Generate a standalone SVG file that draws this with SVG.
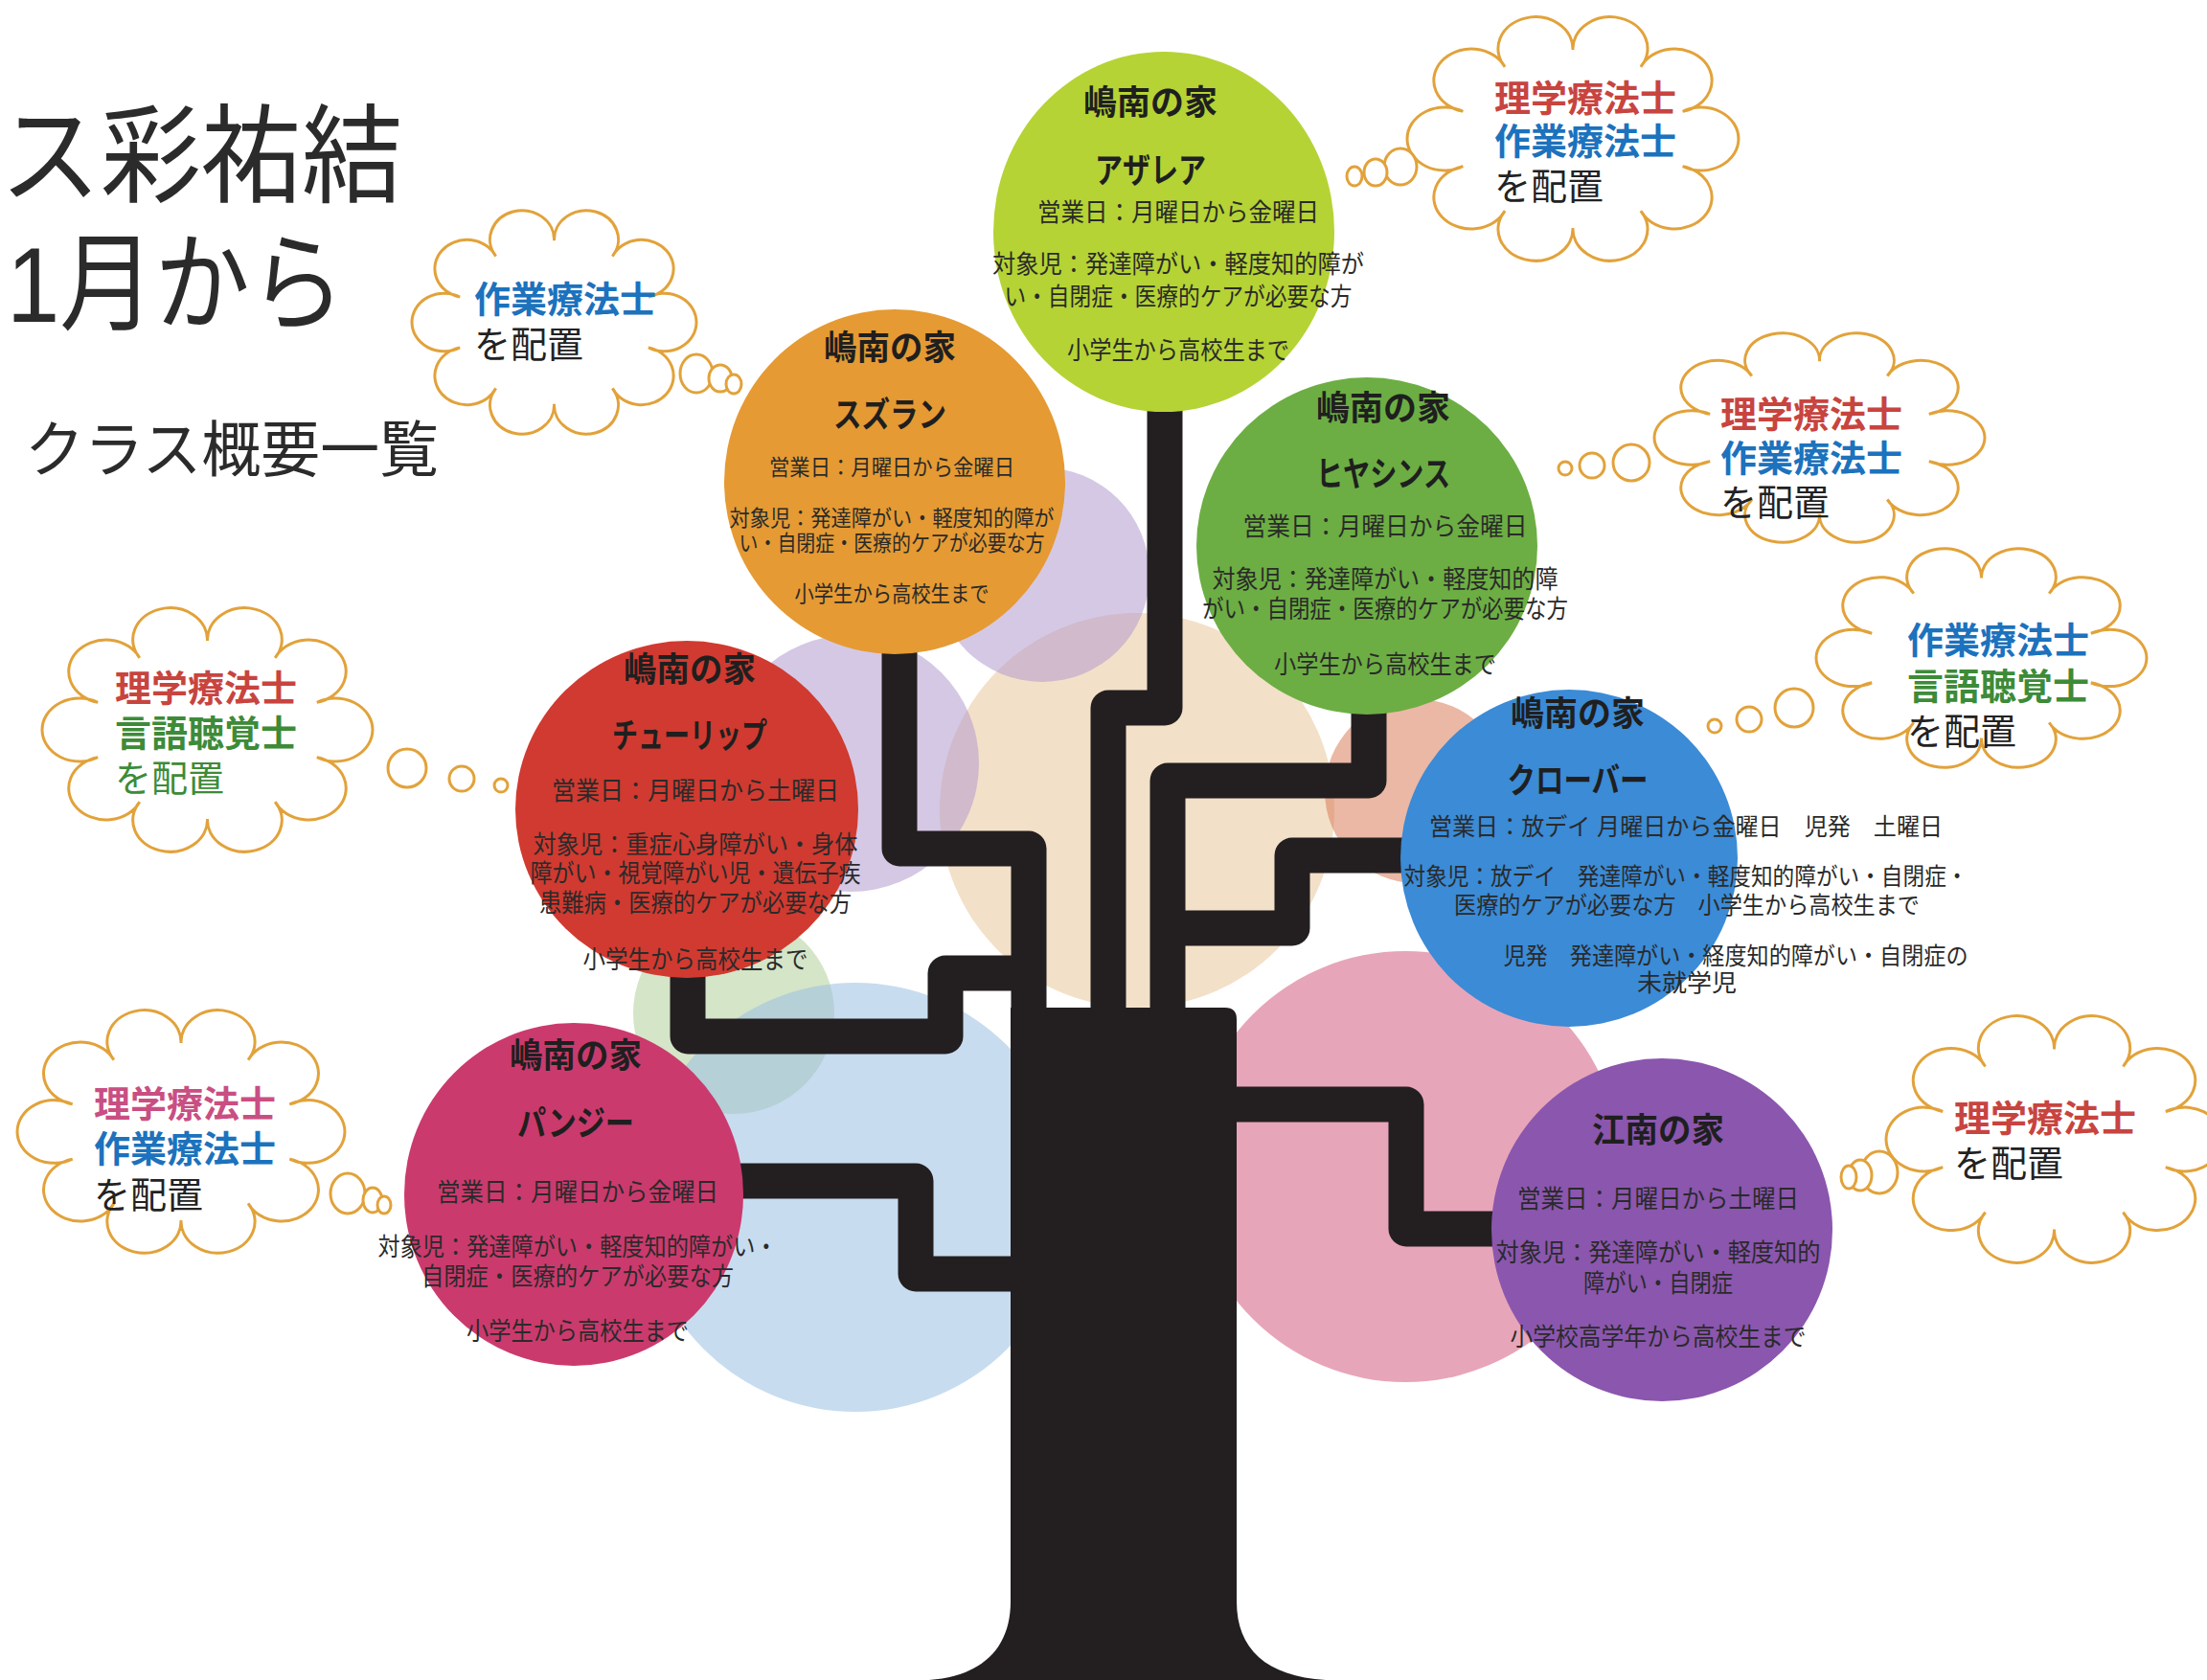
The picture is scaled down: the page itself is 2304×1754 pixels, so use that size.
<svg xmlns="http://www.w3.org/2000/svg" width="2304" height="1754" viewBox="0 0 2304 1754">
<defs>
<style>
.bg{fill-opacity:0.55}
.tree{fill:none;stroke:#231f20;stroke-width:37;stroke-linejoin:round}
.trunk{fill:#231f20}
.name{font-family:"Liberation Sans","Noto Sans CJK JP",sans-serif;font-weight:700;font-size:36px;fill:#1f1f1f;text-anchor:middle;dominant-baseline:central}
.body{font-family:"Liberation Sans","Noto Sans CJK JP",sans-serif;font-size:26px;fill:#2a2a2a;text-anchor:middle;dominant-baseline:central}
.sm{font-size:23px}
.md{font-size:25px}
.cloud{fill:#fff;stroke:#e2a23a;stroke-width:3}
.ct{font-family:"Liberation Sans","Noto Sans CJK JP",sans-serif;font-size:38px;dominant-baseline:central}
.b{font-weight:700}
.red{fill:#c8443f}.blue{fill:#1c72bd}.green{fill:#3d8b38}.pink{fill:#c94f82}.dark{fill:#222}
.title{font-family:"Liberation Sans","Noto Sans CJK JP",sans-serif;fill:#2b2b2b;dominant-baseline:central}
</style>
<path id="cloud" vector-effect="non-scaling-stroke" d="M17.67,40.42 A11,11 0 1 1 30.01,24.92 A11,11 0 1 1 50,19 A11,11 0 1 1 69.99,24.92 A11,11 0 1 1 82.33,40.42 A11,11 0 1 1 82.33,59.58 A11,11 0 1 1 69.99,75.08 A11,11 0 1 1 50,81 A11,11 0 1 1 30.01,75.08 A11,11 0 1 1 17.67,59.58 A11,11 0 1 1 17.67,40.42 Z"/>
</defs>
<rect width="2304" height="1754" fill="#ffffff"/>

<!-- title block -->
<g id="title">
<text class="title" x="0" y="164" font-size="112" textLength="420" lengthAdjust="spacingAndGlyphs">ス彩祐結</text>
<text class="title" x="7" y="297" font-size="112" textLength="353" lengthAdjust="spacingAndGlyphs">1月から</text>
<text class="title" x="26" y="470" font-size="64" textLength="432" lengthAdjust="spacingAndGlyphs">クラス概要一覧</text>
</g>

<!-- soft translucent foliage behind the tree -->
<g id="foliage">
<circle class="bg" cx="1187" cy="846" r="206" fill="#e9c79b"/>
<circle class="bg" cx="1088" cy="600" r="112" fill="#b39bce"/>
<circle class="bg" cx="888" cy="797" r="134" fill="#b39bce"/>
<circle class="bg" cx="1479" cy="826" r="96" fill="#d97e5b"/>
<circle class="bg" cx="766" cy="1058" r="105" fill="#b1d09b"/>
<circle class="bg" cx="893" cy="1250" r="224" fill="#9bbfe4"/>
<circle class="bg" cx="1467" cy="1218" r="225" fill="#d35b80"/>
</g>

<!-- trunk and branches linking each class -->
<g id="connectors">
<path class="trunk" d="M1055,1052 H1279 Q1291,1052 1291,1064 V1672 C1291,1722 1322,1750 1384,1754 H970 C1024,1750 1055,1722 1055,1672 Z"/>
<path class="tree" d="M1216,425 V739 H1157 V1062"/>
<path class="tree" d="M939,675 V886 H1074 V1062"/>
<path class="tree" d="M718,1010 V1082 H987 V1016 H1074"/>
<path class="tree" d="M1429,740 V815 H1219 V1062"/>
<path class="tree" d="M1480,893 H1349 V969 H1219"/>
<path class="tree" d="M760,1233 H956 V1330 H1062"/>
<path class="tree" d="M1280,1153 H1468 V1283 H1578"/>
</g>

<g id="azalea">
<ellipse cx="1215" cy="242" rx="178" ry="188" fill="#b5d334"/>
<text class="name" x="1201" y="107" textLength="140" lengthAdjust="spacingAndGlyphs">嶋南の家</text>
<text class="name" x="1201" y="178" textLength="116" lengthAdjust="spacingAndGlyphs">アザレア</text>
<text class="body" x="1230" y="222" textLength="294" lengthAdjust="spacingAndGlyphs">営業日：月曜日から金曜日</text>
<text class="body" x="1230" y="276" textLength="388" lengthAdjust="spacingAndGlyphs">対象児：発達障がい・軽度知的障が</text>
<text class="body" x="1230" y="310" textLength="363" lengthAdjust="spacingAndGlyphs">い・自閉症・医療的ケアが必要な方</text>
<text class="body" x="1230" y="366" textLength="232" lengthAdjust="spacingAndGlyphs">小学生から高校生まで</text>
</g>

<g id="suzuran">
<ellipse cx="934" cy="503" rx="178" ry="180" fill="#e59a33"/>
<text class="name" x="929" y="363" textLength="138" lengthAdjust="spacingAndGlyphs">嶋南の家</text>
<text class="name" x="929" y="433" textLength="118" lengthAdjust="spacingAndGlyphs">スズラン</text>
<text class="body sm" x="931" y="488" textLength="256" lengthAdjust="spacingAndGlyphs">営業日：月曜日から金曜日</text>
<text class="body sm" x="931" y="541" textLength="339" lengthAdjust="spacingAndGlyphs">対象児：発達障がい・軽度知的障が</text>
<text class="body sm" x="931" y="567" textLength="319" lengthAdjust="spacingAndGlyphs">い・自閉症・医療的ケアが必要な方</text>
<text class="body sm" x="931" y="620" textLength="203" lengthAdjust="spacingAndGlyphs">小学生から高校生まで</text>
</g>

<g id="hyacinth">
<ellipse cx="1427" cy="570" rx="178" ry="176" fill="#6cae43"/>
<text class="name" x="1444" y="426" textLength="140" lengthAdjust="spacingAndGlyphs">嶋南の家</text>
<text class="name" x="1444" y="495" textLength="140" lengthAdjust="spacingAndGlyphs">ヒヤシンス</text>
<text class="body" x="1446" y="550" textLength="297" lengthAdjust="spacingAndGlyphs">営業日：月曜日から金曜日</text>
<text class="body" x="1446" y="605" textLength="361" lengthAdjust="spacingAndGlyphs">対象児：発達障がい・軽度知的障</text>
<text class="body" x="1446" y="636" textLength="382" lengthAdjust="spacingAndGlyphs">がい・自閉症・医療的ケアが必要な方</text>
<text class="body" x="1446" y="694" textLength="232" lengthAdjust="spacingAndGlyphs">小学生から高校生まで</text>
</g>

<g id="tulip">
<ellipse cx="717" cy="845" rx="179" ry="176" fill="#d03a30"/>
<text class="name" x="720" y="699" textLength="138" lengthAdjust="spacingAndGlyphs">嶋南の家</text>
<text class="name" x="720" y="768" textLength="162" lengthAdjust="spacingAndGlyphs">チューリップ</text>
<text class="body" x="726" y="826" textLength="300" lengthAdjust="spacingAndGlyphs">営業日：月曜日から土曜日</text>
<text class="body" x="726" y="882" textLength="339" lengthAdjust="spacingAndGlyphs">対象児：重症心身障がい・身体</text>
<text class="body" x="726" y="912" textLength="345" lengthAdjust="spacingAndGlyphs">障がい・視覚障がい児・遺伝子疾</text>
<text class="body" x="726" y="943" textLength="326" lengthAdjust="spacingAndGlyphs">患難病・医療的ケアが必要な方</text>
<text class="body" x="726" y="1002" textLength="235" lengthAdjust="spacingAndGlyphs">小学生から高校生まで</text>
</g>

<g id="clover">
<ellipse cx="1638" cy="896" rx="176" ry="176" fill="#3b8bd6"/>
<text class="name" x="1647" y="745" textLength="140" lengthAdjust="spacingAndGlyphs">嶋南の家</text>
<text class="name" x="1647" y="815" textLength="147" lengthAdjust="spacingAndGlyphs">クローバー</text>
<text class="body md" x="1760" y="863" textLength="536" lengthAdjust="spacingAndGlyphs">営業日：放デイ 月曜日から金曜日　児発　土曜日</text>
<text class="body md" x="1760" y="915" textLength="589" lengthAdjust="spacingAndGlyphs">対象児：放デイ　発達障がい・軽度知的障がい・自閉症・</text>
<text class="body md" x="1761" y="945" textLength="486" lengthAdjust="spacingAndGlyphs">医療的ケアが必要な方　小学生から高校生まで</text>
<text class="body md" x="1812" y="998" textLength="485" lengthAdjust="spacingAndGlyphs">児発　発達障がい・経度知的障がい・自閉症の</text>
<text class="body md" x="1761" y="1026" textLength="104" lengthAdjust="spacingAndGlyphs">未就学児</text>
</g>

<g id="pansy">
<ellipse cx="599" cy="1247" rx="177" ry="179" fill="#cb3a6d"/>
<text class="name" x="601" y="1102" textLength="138" lengthAdjust="spacingAndGlyphs">嶋南の家</text>
<text class="name" x="601" y="1173" textLength="122" lengthAdjust="spacingAndGlyphs">パンジー</text>
<text class="body" x="603" y="1245" textLength="294" lengthAdjust="spacingAndGlyphs">営業日：月曜日から金曜日</text>
<text class="body" x="603" y="1302" textLength="417" lengthAdjust="spacingAndGlyphs">対象児：発達障がい・軽度知的障がい・</text>
<text class="body" x="603" y="1333" textLength="326" lengthAdjust="spacingAndGlyphs">自閉症・医療的ケアが必要な方</text>
<text class="body" x="603" y="1390" textLength="232" lengthAdjust="spacingAndGlyphs">小学生から高校生まで</text>
</g>

<g id="konan">
<ellipse cx="1735" cy="1284" rx="178" ry="179" fill="#8b56ae"/>
<text class="name" x="1731" y="1180" textLength="138" lengthAdjust="spacingAndGlyphs">江南の家</text>
<text class="body" x="1731" y="1252" textLength="294" lengthAdjust="spacingAndGlyphs">営業日：月曜日から土曜日</text>
<text class="body" x="1731" y="1308" textLength="339" lengthAdjust="spacingAndGlyphs">対象児：発達障がい・軽度知的</text>
<text class="body" x="1731" y="1340" textLength="156" lengthAdjust="spacingAndGlyphs">障がい・自閉症</text>
<text class="body" x="1731" y="1396" textLength="309" lengthAdjust="spacingAndGlyphs">小学校高学年から高校生まで</text>
</g>

<!-- staff thought bubbles -->
<g id="staff-suzuran">
<use href="#cloud" class="cloud" transform="translate(430,220) scale(3.047,2.752) translate(-1.26,-7.67)"/>
<ellipse class="cloud" cx="727" cy="390" rx="17" ry="20"/>
<ellipse class="cloud" cx="752" cy="395" rx="12" ry="14"/>
<ellipse class="cloud" cx="766" cy="401" rx="8" ry="10"/>
<text class="ct b blue" x="495" y="313">作業療法士</text>
<text class="ct dark" x="495" y="360">を配置</text>
</g>

<g id="staff-azalea">
<use href="#cloud" class="cloud" transform="translate(1469,18) scale(3.549,3.0) translate(-1.26,-7.67)"/>
<ellipse class="cloud" cx="1462" cy="174" rx="17" ry="19"/>
<ellipse class="cloud" cx="1436" cy="180" rx="12" ry="14"/>
<ellipse class="cloud" cx="1414" cy="184" rx="8" ry="10"/>
<text class="ct b red" x="1560" y="103">理学療法士</text>
<text class="ct b blue" x="1560" y="148">作業療法士</text>
<text class="ct dark" x="1560" y="195">を配置</text>
</g>

<g id="staff-hyacinth">
<use href="#cloud" class="cloud" transform="translate(1727,348) scale(3.539,2.575) translate(-1.26,-7.67)"/>
<circle class="cloud" cx="1703" cy="483" r="19"/>
<circle class="cloud" cx="1662" cy="486" r="13"/>
<circle class="cloud" cx="1634" cy="489" r="7"/>
<text class="ct b red" x="1796" y="433">理学療法士</text>
<text class="ct b blue" x="1796" y="479">作業療法士</text>
<text class="ct dark" x="1796" y="525">を配置</text>
</g>

<g id="staff-clover">
<use href="#cloud" class="cloud" transform="translate(1896,573) scale(3.539,2.693) translate(-1.26,-7.67)"/>
<circle class="cloud" cx="1873" cy="739" r="20"/>
<circle class="cloud" cx="1826" cy="751" r="13"/>
<circle class="cloud" cx="1790" cy="758" r="7"/>
<text class="ct b blue" x="1991" y="669">作業療法士</text>
<text class="ct b green" x="1991" y="717">言語聴覚士</text>
<text class="ct dark" x="1991" y="764">を配置</text>
</g>

<g id="staff-tulip">
<use href="#cloud" class="cloud" transform="translate(44,635) scale(3.539,3.0) translate(-1.26,-7.67)"/>
<circle class="cloud" cx="425" cy="802" r="20"/>
<circle class="cloud" cx="482" cy="813" r="13"/>
<circle class="cloud" cx="523" cy="820" r="7"/>
<text class="ct b red" x="120" y="719">理学療法士</text>
<text class="ct b green" x="120" y="766">言語聴覚士</text>
<text class="ct green" x="120" y="813">を配置</text>
</g>

<g id="staff-pansy">
<use href="#cloud" class="cloud" transform="translate(18,1055) scale(3.508,2.988) translate(-1.26,-7.67)"/>
<ellipse class="cloud" cx="363" cy="1246" rx="18" ry="21"/>
<ellipse class="cloud" cx="389" cy="1253" rx="10" ry="13"/>
<ellipse class="cloud" cx="401" cy="1258" rx="7" ry="9"/>
<text class="ct b pink" x="98" y="1153">理学療法士</text>
<text class="ct b blue" x="98" y="1200">作業療法士</text>
<text class="ct dark" x="98" y="1248">を配置</text>
</g>

<g id="staff-konan">
<use href="#cloud" class="cloud" transform="translate(1969,1061) scale(3.601,3.036) translate(-1.26,-7.67)"/>
<ellipse class="cloud" cx="1962" cy="1224" rx="19" ry="22"/>
<ellipse class="cloud" cx="1942" cy="1227" rx="12" ry="16"/>
<ellipse class="cloud" cx="1930" cy="1229" rx="8" ry="12"/>
<text class="ct b red" x="2040" y="1168">理学療法士</text>
<text class="ct dark" x="2040" y="1215">を配置</text>
</g>
</svg>
